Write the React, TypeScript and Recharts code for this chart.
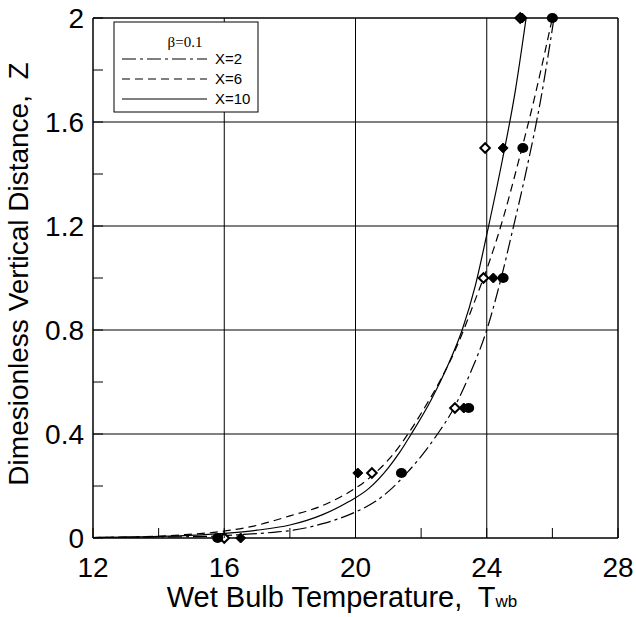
import { ComposedChart, Line, Scatter, XAxis, YAxis, ReferenceLine } from 'recharts';

const FONT = '"Liberation Sans", Arial, sans-serif';

// axis ticks (minor every 2 / 0.2, labels on every other one)
const xTicks = [12, 14, 16, 18, 20, 22, 24, 26, 28];
const yTicks = [0, 0.2, 0.4, 0.6, 0.8, 1.0, 1.2, 1.4, 1.6, 1.8, 2.0];
const xGridLines = [16, 20, 24, 28];
const yGridLines = [0.4, 0.8, 1.2, 1.6, 2.0];

// computed curves, Twb vs Z
const curveX2 = [
  { t: 12, z: 0.002 },
  { t: 14, z: 0.004 },
  { t: 15.4, z: 0.006 },
  { t: 16.5, z: 0.013 },
  { t: 17.5, z: 0.022 },
  { t: 18.1, z: 0.03 },
  { t: 19.0, z: 0.055 },
  { t: 20.0, z: 0.1 },
  { t: 20.6, z: 0.14 },
  { t: 21.1, z: 0.19 },
  { t: 21.6, z: 0.255 },
  { t: 22.1, z: 0.33 },
  { t: 22.5, z: 0.4 },
  { t: 23.0, z: 0.5 },
  { t: 23.5, z: 0.635 },
  { t: 24.0, z: 0.8 },
  { t: 24.4, z: 0.98 },
  { t: 24.8, z: 1.19 },
  { t: 25.2, z: 1.41 },
  { t: 25.65, z: 1.69 },
  { t: 26.05, z: 2.0 },
];

const curveX6 = [
  { t: 12, z: 0.002 },
  { t: 13.6, z: 0.005 },
  { t: 14.7, z: 0.012 },
  { t: 16.2, z: 0.03 },
  { t: 16.9, z: 0.046 },
  { t: 18.0, z: 0.085 },
  { t: 18.9, z: 0.12 },
  { t: 19.5, z: 0.155 },
  { t: 20.1, z: 0.2 },
  { t: 20.6, z: 0.25 },
  { t: 21.1, z: 0.315 },
  { t: 21.6, z: 0.4 },
  { t: 22.1, z: 0.5 },
  { t: 22.6, z: 0.61 },
  { t: 23.1, z: 0.74 },
  { t: 23.6, z: 0.9 },
  { t: 24.1, z: 1.07 },
  { t: 24.5, z: 1.23 },
  { t: 24.93, z: 1.43 },
  { t: 25.45, z: 1.69 },
  { t: 26.0, z: 2.0 },
];

const curveX10 = [
  { t: 12, z: 0.002 },
  { t: 14, z: 0.006 },
  { t: 16, z: 0.018 },
  { t: 17, z: 0.03 },
  { t: 18, z: 0.05 },
  { t: 19, z: 0.09 },
  { t: 19.8, z: 0.14 },
  { t: 20.4, z: 0.19 },
  { t: 21.0, z: 0.27 },
  { t: 21.35, z: 0.33 },
  { t: 21.7, z: 0.4 },
  { t: 22.3, z: 0.53 },
  { t: 22.8, z: 0.66 },
  { t: 23.25, z: 0.8 },
  { t: 23.65, z: 0.97 },
  { t: 24.04, z: 1.19 },
  { t: 24.47, z: 1.45 },
  { t: 24.87, z: 1.72 },
  { t: 25.2, z: 2.0 },
];

// measured points
const openDiamonds = [
  { t: 16.0, z: 0 },
  { t: 20.5, z: 0.25 },
  { t: 23.03, z: 0.5 },
  { t: 23.9, z: 1.0 },
  { t: 23.95, z: 1.5 },
  { t: 25.02, z: 2.0 },
];
const filledDiamonds = [
  { t: 16.5, z: 0 },
  { t: 20.07, z: 0.25 },
  { t: 23.3, z: 0.5 },
  { t: 24.2, z: 1.0 },
  { t: 24.5, z: 1.5 },
  { t: 25.08, z: 2.0 },
];
const filledCircles = [
  { t: 15.8, z: 0 },
  { t: 21.4, z: 0.25 },
  { t: 23.45, z: 0.5 },
  { t: 24.5, z: 1.0 },
  { t: 25.1, z: 1.5 },
  { t: 26.0, z: 2.0 },
];

const SERIES = [
  { name: 'X=2', data: curveX2, dash: '14 4 3 4' },
  { name: 'X=6', data: curveX6, dash: '8 5' },
  { name: 'X=10', data: curveX10, dash: undefined },
];

const BottomTick = ({ x, y, payload }: any) => {
  const v = payload.value;
  return (
    <g>
      <line x1={x} y1={y} x2={x} y2={y - 10} stroke="#000" />
      {v % 4 === 0 && (
        <text x={x} y={y + 39} textAnchor="middle" fontSize={28} fontFamily={FONT} fill="#000">
          {v}
        </text>
      )}
    </g>
  );
};

const LeftTick = ({ x, y, payload }: any) => {
  const v = payload.value;
  const major = Math.round(v * 10) % 4 === 0;
  const label = v === 0 ? '0' : v === 2 ? '2' : v.toFixed(1);
  return (
    <g>
      <line x1={x} y1={y} x2={x + 10} y2={y} stroke="#000" />
      {major && (
        <text x={x - 9} y={y + 10} textAnchor="end" fontSize={28} fontFamily={FONT} fill="#000">
          {label}
        </text>
      )}
    </g>
  );
};

const diamond = (cx: number, cy: number, r: number) =>
  `M${cx},${cy - r} L${cx + r},${cy} L${cx},${cy + r} L${cx - r},${cy} Z`;

const OpenDiamond = ({ cx, cy }: any) => (
  <path d={diamond(cx, cy, 4.8)} fill="#fff" stroke="#000" strokeWidth={2} />
);
const FilledDiamond = ({ cx, cy }: any) => (
  <path d={diamond(cx, cy, 5)} fill="#000" stroke="#000" />
);
const FilledCircle = ({ cx, cy }: any) => <ellipse cx={cx} cy={cy} rx={5.5} ry={5} fill="#000" />;

export default function App() {
  return (
    <div style={{ position: 'absolute', left: 0, top: 0, width: 636, height: 617, background: '#fff', fontFamily: FONT }}>
      <ComposedChart width={636} height={617} margin={{ top: 18, right: 18, left: 0, bottom: 0 }}>
        <XAxis
          dataKey="t"
          type="number"
          domain={[12, 28]}
          ticks={xTicks}
          interval={0}
          height={79}
          tickSize={0}
          tickMargin={0}
          tickLine={false}
          tick={<BottomTick />}
          axisLine={{ stroke: '#000', strokeWidth: 1.5 }}
        />
        <YAxis
          dataKey="z"
          type="number"
          domain={[0, 2]}
          ticks={yTicks}
          interval={0}
          width={93}
          tickSize={0}
          tickMargin={0}
          tickLine={false}
          tick={<LeftTick />}
          axisLine={{ stroke: '#000', strokeWidth: 1.5 }}
        />
        {xGridLines.map((v) => (
          <ReferenceLine key={'x' + v} x={v} stroke="#000" strokeWidth={v === 28 ? 1.5 : 1} />
        ))}
        {yGridLines.map((v) => (
          <ReferenceLine key={'y' + v} y={v} stroke="#000" strokeWidth={v === 2 ? 1.5 : 1} />
        ))}
        {SERIES.map((s) => (
          <Line
            key={s.name}
            data={s.data}
            dataKey="z"
            type="monotone"
            stroke="#000"
            strokeWidth={1.2}
            strokeDasharray={s.dash}
            dot={false}
            isAnimationActive={false}
          />
        ))}
        <Scatter data={openDiamonds} dataKey="z" shape={<OpenDiamond />} isAnimationActive={false} />
        <Scatter data={filledDiamonds} dataKey="z" shape={<FilledDiamond />} isAnimationActive={false} />
        <Scatter data={filledCircles} dataKey="z" shape={<FilledCircle />} isAnimationActive={false} />
      </ComposedChart>

      {/* legend box */}
      <svg width={147} height={93} style={{ position: 'absolute', left: 113, top: 21 }}>
        <rect x={1} y={1} width={144} height={90} fill="#fff" stroke="#000" />
        <text x={72} y={26} textAnchor="middle" fontSize={15} fontFamily='"Liberation Serif", "Times New Roman", serif'>
          β=0.1
        </text>
        {SERIES.map((s, i) => (
          <g key={s.name}>
            <line x1={9} x2={94} y1={38 + i * 20} y2={38 + i * 20} stroke="#000" strokeWidth={1.2} strokeDasharray={s.dash} />
            <text x={102} y={43 + i * 20} fontSize={15} fontFamily={FONT}>
              {s.name}
            </text>
          </g>
        ))}
      </svg>

      {/* axis titles */}
      <div
        style={{
          position: 'absolute',
          left: 42,
          top: 583,
          width: 600,
          textAlign: 'center',
          fontSize: 29,
          lineHeight: '29px',
          whiteSpace: 'pre',
        }}
      >
        {'Wet Bulb Temperature,  T'}
        <span style={{ fontSize: 17 }}>wb</span>
      </div>
      <div
        style={{
          position: 'absolute',
          left: 19,
          top: 274,
          transform: 'translate(-50%, -50%) rotate(-90deg)',
          fontSize: 28,
          lineHeight: '28px',
          whiteSpace: 'pre',
        }}
      >
        {'Dimesionless Vertical Distance,  Z'}
      </div>
    </div>
  );
}
